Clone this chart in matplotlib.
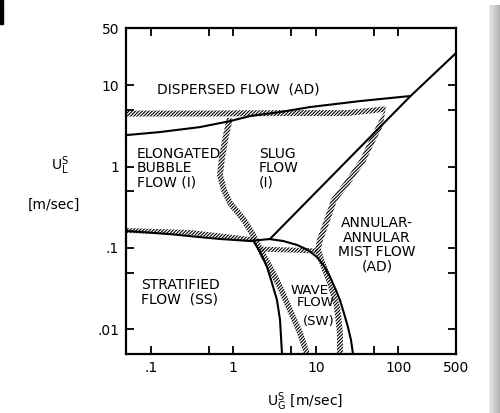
import numpy as np
import matplotlib
matplotlib.use('Agg')
import matplotlib.pyplot as plt

plt.rcParams['font.family'] = ['DejaVu Sans']
plt.rcParams['mathtext.fontset'] = 'dejavusans'
plt.rcParams['hatch.linewidth'] = 0.8

# solid regime boundaries: superficial gas velocity vs superficial liquid velocity [m/sec]
dispersed_ug = [0.05, 0.129, 0.394, 0.91, 1.59, 3.68, 8.5, 34.3, 138]
dispersed_ul = [2.43, 2.65, 3.05, 3.61, 4.16, 4.66, 5.37, 6.36, 7.33]

annular_ug = [2.78, 138, 500]
annular_ul = [0.129, 7.2, 24.7]

stratified_ug = [0.05, 0.171, 0.394, 0.689, 1.59, 2.78]
stratified_ul = [0.162, 0.148, 0.136, 0.129, 0.122, 0.129]

wave_outer_ug = [2.7, 4.0, 5.92, 8.04, 10.3, 12.6, 14.9, 17.5, 19.6, 21.9, 24.5, 26.7, 28.2]
wave_outer_ul = [0.129, 0.122, 0.109, 0.0945, 0.0775, 0.060, 0.044, 0.0305, 0.023,
                 0.0159, 0.0107, 0.0074, 0.005]

wave_inner_ug = [1.73, 2.11, 2.56, 2.94, 3.38, 3.68, 3.89]
wave_inner_ul = [0.125, 0.0893, 0.0585, 0.0372, 0.023, 0.0131, 0.005]

# hatched transition zones (centre lines)
trans_top_ug = [0.05, 0.394, 3.68, 23.9, 68.9, 60, 45.4, 37.3, 23.9, 16.6, 13.7,
                11.2, 10.6, 11.9, 14.9, 18.1, 19.6, 19.6]
trans_top_ul = [4.47, 4.47, 4.53, 4.53, 5.07, 3.23, 1.83, 1.20, 0.627, 0.388, 0.22,
                0.125, 0.0945, 0.0673, 0.0372, 0.0189, 0.00906, 0.0046]

trans_slug_ug = [0.91, 0.815, 0.73, 0.689, 0.77, 0.91, 1.35, 1.68, 1.94, 2.29, 2.78,
                 3.68, 4.86, 6.43, 8.04]
trans_slug_ul = [3.93, 2.43, 1.31, 0.785, 0.514, 0.357, 0.22, 0.153, 0.115, 0.082,
                 0.0585, 0.0332, 0.0173, 0.00906, 0.0046]

trans_strat_ug = [0.05, 0.299, 0.91, 1.83]
trans_strat_ul = [0.164, 0.155, 0.136, 0.125]

trans_wave_ug = [1.99, 4.86, 10.6]
trans_wave_ul = [0.097, 0.0945, 0.0918]

x_ticks = [0.1, 0.5, 1, 5, 10, 50, 100, 500]
x_labels = ['.1', '', '1', '', '10', '', '100', '500']
y_ticks = [0.01, 0.05, 0.1, 0.5, 1, 5, 10, 50]
y_labels = ['.01', '', '.1', '', '1', '', '10', '50']

regions = [
    ('DISPERSED FLOW  (AD)', 0.119, 8.9, 'left', 10),
    ('ELONGATED\nBUBBLE\nFLOW (I)', 0.068, 0.957, 'left', 10),
    ('SLUG\nFLOW\n(I)', 2.05, 0.957, 'left', 10),
    ('ANNULAR-\nANNULAR\nMIST FLOW\n(AD)', 55, 0.109, 'center', 10),
    ('STRATIFIED\nFLOW  (SS)', 0.076, 0.0288, 'left', 10),
    ('WAVE', 5.0, 0.0305, 'left', 9.5),
    ('FLOW', 5.8, 0.0215, 'left', 9.5),
    ('(SW)', 7.0, 0.0125, 'left', 9.5),
]


def band(ax, ug, ul, width):
    # widen a centre line into a hatched strip of constant pixel width
    pts = ax.transData.transform(np.column_stack([ug, ul]))
    d = np.gradient(pts, axis=0)
    n = np.column_stack([-d[:, 1], d[:, 0]])
    n /= np.linalg.norm(n, axis=1)[:, None]
    poly = np.vstack([pts + n * width / 2, (pts - n * width / 2)[::-1]])
    poly = ax.transData.inverted().transform(poly)
    ax.fill(poly[:, 0], poly[:, 1], facecolor='none', edgecolor='black',
            hatch='//////////', linewidth=0, zorder=1)


fig = plt.figure(figsize=(5.0, 4.13), dpi=100)
ax = fig.add_axes([0.252, 0.1429, 0.66, 0.789])
ax.set_xscale('log')
ax.set_yscale('log')
ax.set_xlim(0.05, 500)
ax.set_ylim(0.005, 50)

band(ax, trans_top_ug, trans_top_ul, 6)
band(ax, trans_slug_ug, trans_slug_ul, 6)
band(ax, trans_strat_ug, trans_strat_ul, 5)
band(ax, trans_wave_ug, trans_wave_ul, 5)

for ug, ul in [(dispersed_ug, dispersed_ul), (annular_ug, annular_ul),
               (stratified_ug, stratified_ul), (wave_outer_ug, wave_outer_ul),
               (wave_inner_ug, wave_inner_ul)]:
    ax.plot(ug, ul, color='black', lw=1.5, zorder=3, solid_capstyle='butt')

for txt, x, y, ha, fs in regions:
    ax.text(x, y, txt, ha=ha, va='center', multialignment=ha, fontsize=fs,
            linespacing=1.05, zorder=4)

ax.set_xticks(x_ticks)
ax.set_xticklabels(x_labels)
ax.set_yticks(y_ticks)
ax.set_yticklabels(y_labels)
ax.xaxis.set_minor_locator(matplotlib.ticker.NullLocator())
ax.yaxis.set_minor_locator(matplotlib.ticker.NullLocator())
ax.tick_params(direction='in', length=6, width=1.3, top=True, right=True,
               labelsize=10, pad=5)
for s in ax.spines.values():
    s.set_linewidth(1.6)

fig.text(0.12, 0.598, r'$\mathregular{U_L^S}$', fontsize=10, ha='center', va='center')
fig.text(0.108, 0.504, '[m/sec]', fontsize=10, ha='center', va='center')
fig.text(0.61, 0.027, r'$\mathregular{U_G^S}$ [m/sec]', fontsize=10, ha='center', va='center')

# page edge shading
shade = fig.add_axes([489 / 500, 0, 11 / 500, 408 / 413])
shade.imshow(np.linspace(0.9, 0.7, 11)[None, :], cmap='gray', vmin=0, vmax=1,
             aspect='auto', extent=(0, 1, 0, 1))
shade.axis('off')
fig.add_artist(plt.Rectangle((0, 1 - 24 / 413), 3 / 500, 24 / 413,
                             transform=fig.transFigure, color='black'))

fig.savefig('out.png', dpi=100)
